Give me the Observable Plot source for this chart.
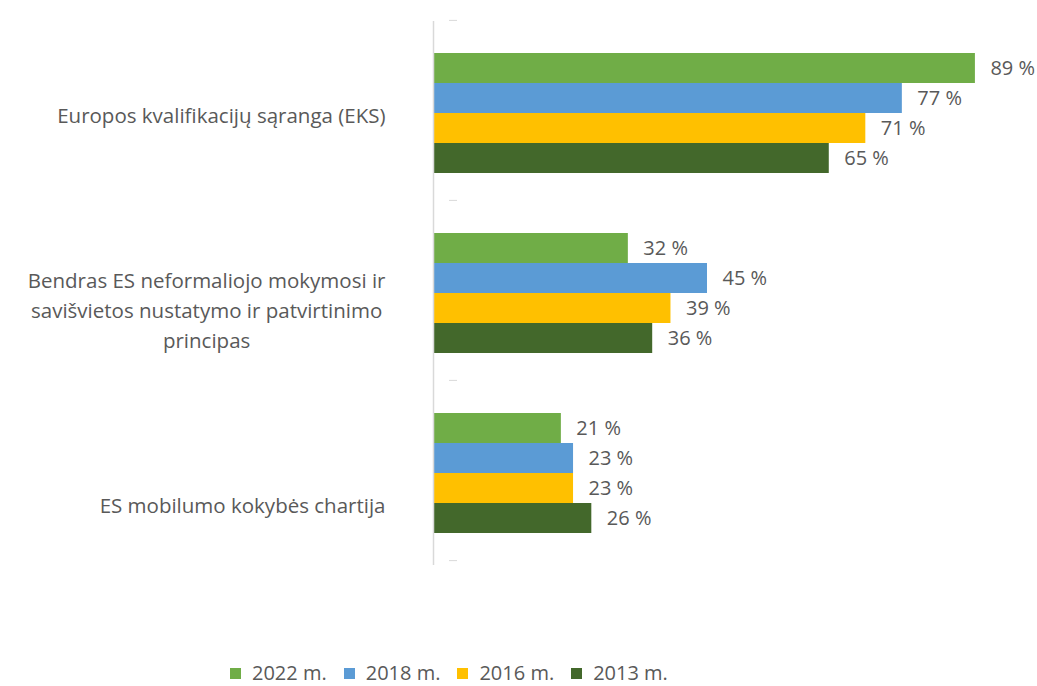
<!DOCTYPE html>
<html><head><meta charset="utf-8">
<script src="https://cdn.jsdelivr.net/npm/d3@7"></script>
<script src="https://cdn.jsdelivr.net/npm/@observablehq/plot@0.6"></script>
<style>
html,body{margin:0;background:#fff;font-family:"Open Sans",sans-serif;}
#chart svg{display:block;}
#legend{display:flex;align-items:center;height:26px;line-height:26px;padding-left:230px;font-size:20px;color:#595959;}
.item{display:flex;align-items:center;margin-right:17px;}
.sw{width:11px;height:11px;margin-right:11px;}
</style></head><body><div id="chart"></div><div id="legend"></div>
<script>
const categories = [
  "Europos kvalifikacijų sąranga (EKS)",
  "Bendras ES neformaliojo mokymosi ir\nsavišvietos nustatymo ir patvirtinimo\nprincipas",
  "ES mobilumo kokybės chartija"
];
const series = ["2022 m.", "2018 m.", "2016 m.", "2013 m."];
const values2022 = [89, 32, 21];
const values2018 = [77, 45, 23];
const values2016 = [71, 39, 23];
const values2013 = [65, 36, 26];
const colors = ["#70AD47", "#5B9BD5", "#FFC000", "#43682B"];

const seriesValues = [values2022, values2018, values2016, values2013];
const rows = [];
categories.forEach((c, ci) => series.forEach((s, si) => rows.push({cat: c, series: s, value: seriesValues[si][ci], key: `${ci}|${si}`})));

const domain = ["top"];
categories.forEach((c, ci) => {
  if (ci > 0) domain.push(`gap${ci}a`, `gap${ci}b`);
  series.forEach((s, si) => domain.push(`${ci}|${si}`));
});
domain.push("bottom");

const W = 1037, H = 660, mt = 21, mb = 95, ml = 433, mr = 56;
const bw = (H - mt - mb) / domain.length;
const fontSize = 20;
const labelSize = 20.5;
const ctx = document.createElement("canvas").getContext("2d");
ctx.font = `${labelSize}px "Open Sans"`;
const textWidth = (t) => Math.max(...t.split("\n").map(l => ctx.measureText(l).width));
const textColor = "#595959";

const labelMarks = categories.map((c, ci) => Plot.text([c], {
  x: () => 0, y: () => `${ci}|1`, text: d => d,
  dy: bw / 2 * (1 + ci), dx: -(48 + textWidth(c) / 2),
  textAnchor: "middle", lineAnchor: "middle", lineHeight: 1.47,
  fontSize: labelSize, fill: textColor
}));

const chart = Plot.plot({
  width: W, height: H, marginLeft: ml, marginRight: mr, marginTop: mt, marginBottom: mb,
  style: {fontFamily: '"Open Sans", sans-serif', fontSize: `${fontSize}px`, background: "#fff"},
  x: {domain: [0, 90], axis: null},
  y: {domain, padding: 0},
  color: {domain: series, range: colors},
  marks: [
    Plot.barX(rows, {x: "value", y: "key", fill: "series"}),
    Plot.ruleX([0], {stroke: "#d9d9d9", strokeWidth: 1.5}),
    Plot.axisY(["top", "gap1b", "gap2b"], {anchor: "left", tickSize: 8, dx: 24, dy: -bw / 2 - 3, tickFormat: () => "", stroke: "#d9d9d9", label: null}),
    Plot.axisY(["bottom"], {anchor: "left", tickSize: 8, dx: 24, dy: bw / 2 - 3, tickFormat: () => "", stroke: "#d9d9d9", label: null}),
    Plot.text(rows, {x: "value", y: "key", text: d => `${d.value} %`, dx: 15, textAnchor: "start", fill: textColor}),
    ...labelMarks
  ]
});
document.getElementById("chart").appendChild(chart);

const legend = document.getElementById("legend");
series.forEach((s, i) => {
  const item = document.createElement("div");
  item.className = "item";
  const sw = document.createElement("div");
  sw.className = "sw";
  sw.style.background = colors[i];
  const t = document.createElement("span");
  t.textContent = s;
  item.appendChild(sw); item.appendChild(t);
  legend.appendChild(item);
});
</script></body></html>
